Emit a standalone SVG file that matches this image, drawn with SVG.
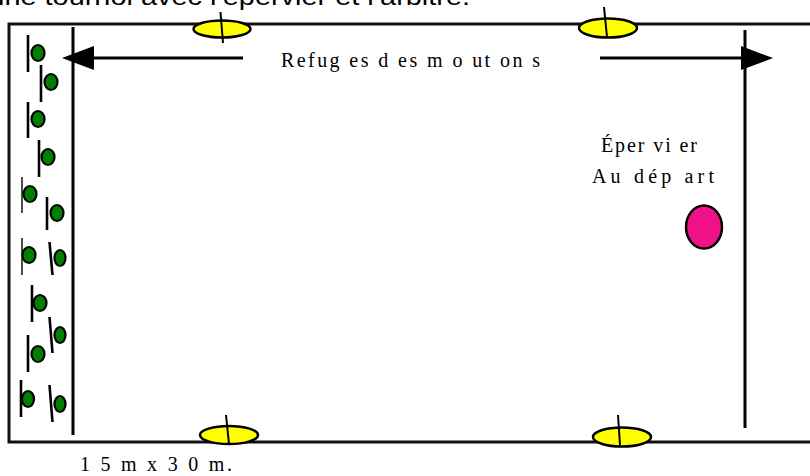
<svg xmlns="http://www.w3.org/2000/svg" width="810" height="476" viewBox="0 0 810 476">
<defs>
<style>
.frame{fill:none;stroke:#111;stroke-width:3}
.wall{stroke:#000;stroke-width:3}
.conn{stroke:#000;stroke-width:3;fill:none}
.cone{fill:#ffff00;stroke:#000;stroke-width:2.5}
.pole{stroke:#000;stroke-width:2}
.sheep{fill:#008000;stroke:#000;stroke-width:2.2}
.staff{stroke:#000;stroke-width:2.6}
.staffThin{stroke:#000;stroke-width:1.4}
.hawk{fill:#f0108a;stroke:#000;stroke-width:2.5}
.serif{font-family:"Liberation Serif","Times New Roman",serif;fill:#000}
.sans{font-family:"Liberation Sans",Arial,sans-serif;fill:#000}
</style>
<marker id="head" viewBox="0 0 32 24" refX="2" refY="12" markerWidth="32" markerHeight="24" markerUnits="userSpaceOnUse" orient="auto">
<path d="M0,0 L32,12 L0,24 Q-2,12 0,0 Z" fill="#000"/>
</marker>
</defs>
<rect width="810" height="476" fill="#fff"/>
<text class="sans" x="-2" y="5" font-size="24" textLength="472" lengthAdjust="spacingAndGlyphs">ine tournoi avec l’épervier et l’arbitre.</text>
<g id="terrain">
<path class="frame" d="M812,24 L9,24 L9,442 L812,442"/>
</g>
<g id="refuge-gauche"><line class="wall" x1="73" y1="27" x2="73" y2="435"/></g>
<g id="refuge-droit"><line class="wall" x1="745" y1="30" x2="745" y2="428"/></g>
<g id="connecteurs">
<line class="conn" x1="243" y1="58" x2="92" y2="58" marker-end="url(#head)"/>
<line class="conn" x1="600" y1="58" x2="743" y2="58" marker-end="url(#head)"/>
</g>
<g id="label-refuges"><text class="serif" x="281" y="67" font-size="20" textLength="259" lengthAdjust="spacing">Refug es  d es m o ut on s</text></g>
<g id="plot-1"><ellipse class="cone" cx="222" cy="29" rx="28.5" ry="8.5"/><line class="pole" x1="220.5" y1="12" x2="223" y2="43"/></g>
<g id="plot-2"><ellipse class="cone" cx="608" cy="28" rx="29" ry="9.5"/><line class="pole" x1="604" y1="7" x2="607" y2="37"/></g>
<g id="plot-3"><ellipse class="cone" cx="229" cy="435" rx="29" ry="9"/><line class="pole" x1="226" y1="415" x2="229" y2="444"/></g>
<g id="plot-4"><ellipse class="cone" cx="622" cy="437" rx="29" ry="9.5"/><line class="pole" x1="618" y1="415" x2="620" y2="445"/></g>
<g id="moutons">
<g id="mouton-1"><line class="staff" x1="28" y1="35" x2="28" y2="72"/><ellipse class="sheep" cx="38" cy="53" rx="6.5" ry="8"/></g>
<g id="mouton-2"><line class="staff" x1="41" y1="65" x2="41" y2="102"/><ellipse class="sheep" cx="51" cy="82" rx="6.5" ry="8"/></g>
<g id="mouton-3"><line class="staff" x1="28" y1="102" x2="28" y2="138"/><ellipse class="sheep" cx="38" cy="119" rx="6.5" ry="8"/></g>
<g id="mouton-4"><line class="staff" x1="39" y1="140" x2="39" y2="177"/><ellipse class="sheep" cx="48" cy="157" rx="6.5" ry="8"/></g>
<g id="mouton-5"><line class="staffThin" x1="22" y1="177" x2="22" y2="213"/><ellipse class="sheep" cx="30" cy="194" rx="6.5" ry="8"/></g>
<g id="mouton-6"><line class="staff" x1="47" y1="197" x2="47" y2="230"/><ellipse class="sheep" cx="57" cy="213" rx="6.5" ry="8"/></g>
<g id="mouton-7"><line class="staffThin" x1="22" y1="238" x2="22" y2="275"/><ellipse class="sheep" cx="29" cy="255" rx="6.5" ry="8"/></g>
<g id="mouton-8"><line class="staff" x1="49.5" y1="242" x2="52.5" y2="275"/><ellipse class="sheep" cx="60" cy="258" rx="5.5" ry="8"/></g>
<g id="mouton-9"><line class="staff" x1="32" y1="285" x2="32" y2="322"/><ellipse class="sheep" cx="40" cy="303" rx="6.5" ry="8"/></g>
<g id="mouton-10"><line class="staff" x1="49.5" y1="317" x2="52.5" y2="353"/><ellipse class="sheep" cx="60" cy="335" rx="5.5" ry="8"/></g>
<g id="mouton-11"><line class="staff" x1="28" y1="335" x2="28" y2="372"/><ellipse class="sheep" cx="38" cy="354" rx="6.5" ry="8"/></g>
<g id="mouton-12"><line class="staff" x1="21" y1="380" x2="21" y2="417"/><ellipse class="sheep" cx="28" cy="399" rx="6" ry="8"/></g>
<g id="mouton-13"><line class="staff" x1="49.5" y1="385" x2="52.5" y2="422"/><ellipse class="sheep" cx="60" cy="404" rx="5.5" ry="8"/></g>
</g>
<g id="epervier">
<text class="serif" x="601" y="152" font-size="20" textLength="96" lengthAdjust="spacing">Éper vi er</text>
<text class="serif" x="592" y="183" font-size="20" textLength="122" lengthAdjust="spacing">Au dép art</text>
<ellipse class="hawk" cx="704" cy="227" rx="18" ry="21.5"/>
</g>
<g id="dimensions"><text class="serif" x="80" y="471" font-size="20" textLength="152" lengthAdjust="spacing">1 5  m  x  3 0  m.</text></g>
</svg>
